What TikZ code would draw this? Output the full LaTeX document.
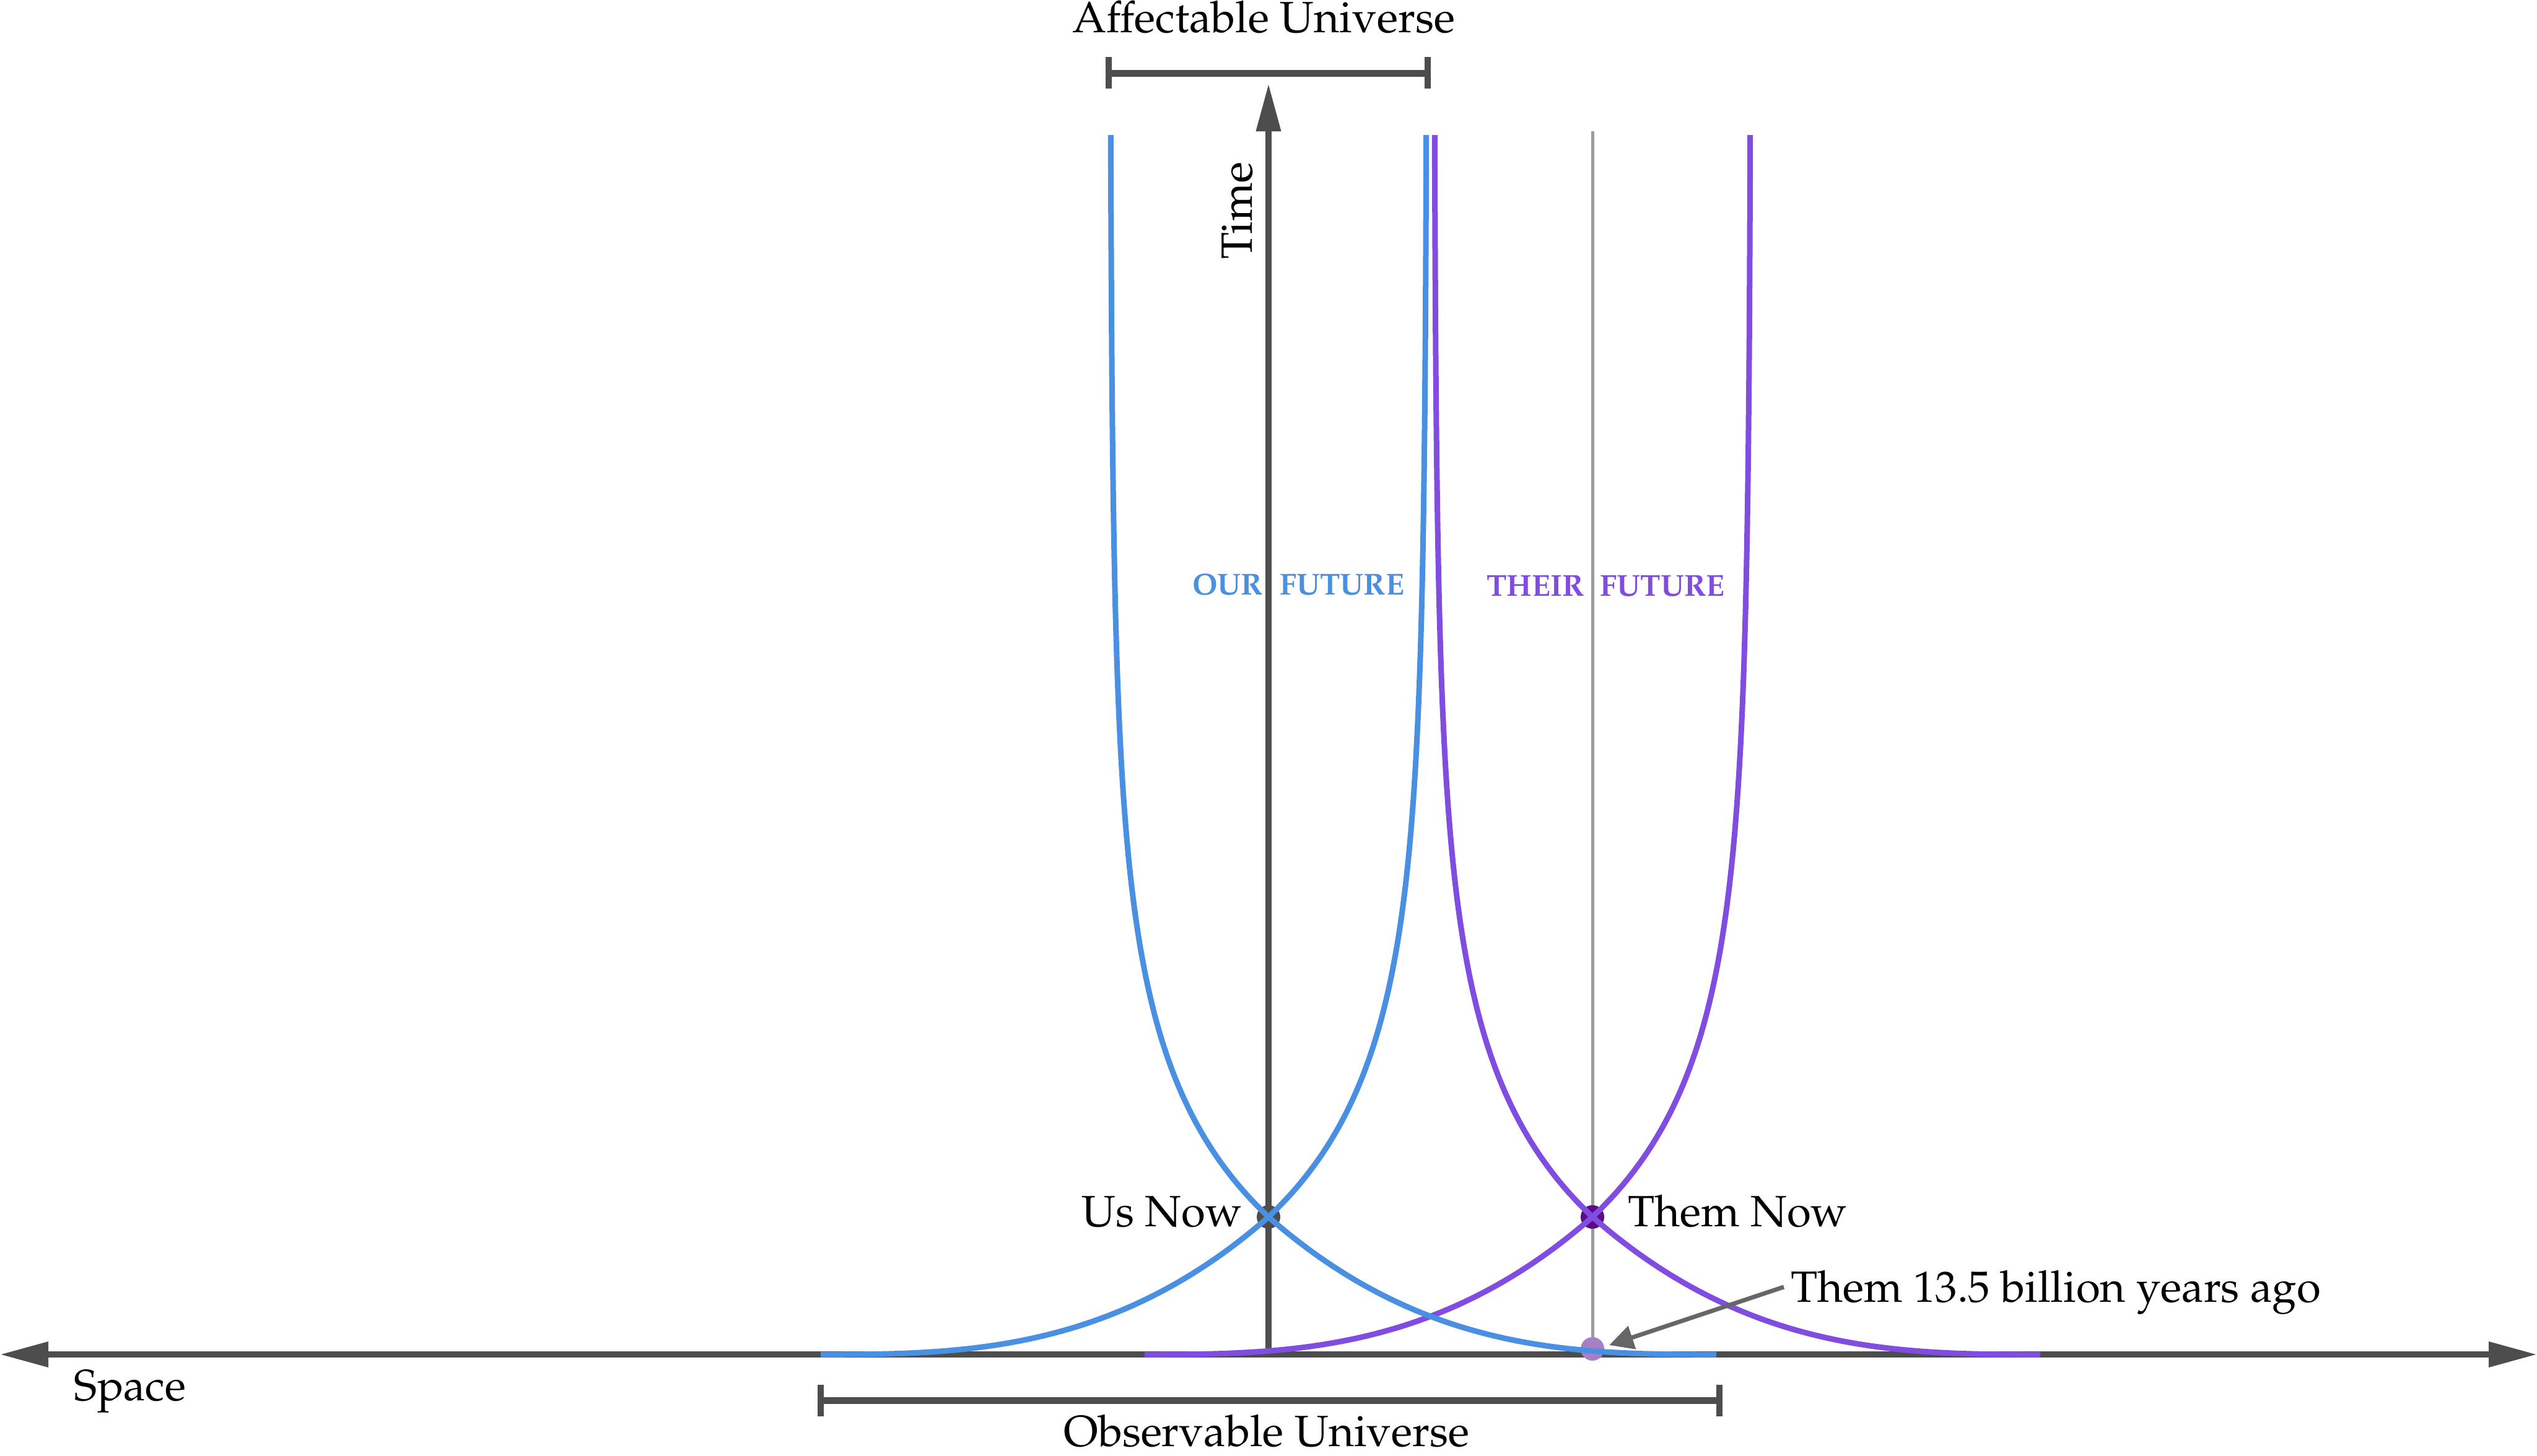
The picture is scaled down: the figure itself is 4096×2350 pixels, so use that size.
\documentclass[tikz,border=0pt]{standalone}
\usepackage[T1]{fontenc}
\usepackage{mathpazo}
\usetikzlibrary{arrows.meta}
\definecolor{axisgray}{HTML}{4D4D4D}
\definecolor{ourblue}{HTML}{4A90E2}
\definecolor{theirpurple}{HTML}{804DE0}
\definecolor{themdotc}{HTML}{5F0A87}
\definecolor{pastdotc}{HTML}{A87FC4}
\definecolor{worldgray}{HTML}{9B9B9B}
\definecolor{pointergray}{HTML}{666666}
% one light-cone branch, relative to the event at u=0 (y in picture pixels)
\newcommand\conepath{plot[domain=0.0001:6.626,samples=90,smooth] ({-723+109.1*\x},{2187-pow(\x,2.857)}) -- plot[domain=0:1747,samples=140,smooth] ({256-256*exp(-0.00415*\x/(1+0.00022*\x))},{1965-\x})}
\begin{document}
\begin{tikzpicture}[x=0.01cm,y=-0.01cm,
  every node/.style={inner sep=0pt,outer sep=0pt},
  font=\fontsize{20.1pt}{24pt}\selectfont,
  bigtip/.tip={Triangle[length=0.78cm,width=0.39cm]},
  timetip/.tip={Triangle[length=0.77cm,width=0.38cm]},
  ptrtiptype/.tip={Triangle[length=0.39cm,width=0.38cm]},
  axisline/.style={draw=axisgray,line width=0.1cm},
  bracketline/.style={draw=axisgray,line width=0.11cm},
  ticklinestyle/.style={draw=axisgray,line width=0.1cm},
  coneline/.style={line width=0.09cm},
  dotnode/.style={circle,minimum size=0.38cm},
  lbl/.style={anchor=base west},
  futurelbl/.style={anchor=base west,font=\fontsize{13.9pt}{16pt}\selectfont\bfseries}]
\useasboundingbox (0,0) rectangle (4096,2350);

% coordinates
\coordinate (spL) at (0,2187);
\coordinate (spR) at (4096,2187);
\coordinate (tB) at (2048,2187);
\coordinate (tT) at (2048,135);
\coordinate (usnow) at (2048,1965);
\coordinate (themnow) at (2571,1965);
\coordinate (themtop) at (2571,212);
\coordinate (thembot) at (2571,2187);
\coordinate (affL) at (1790,118);
\coordinate (affR) at (2305,118);
\coordinate (affLt) at (1790,92);
\coordinate (affLb) at (1790,143);
\coordinate (affRt) at (2305,92);
\coordinate (affRb) at (2305,143);
\coordinate (obsL) at (1325,2261);
\coordinate (obsR) at (2776,2261);
\coordinate (obsLt) at (1325,2236);
\coordinate (obsLb) at (1325,2287);
\coordinate (obsRt) at (2776,2236);
\coordinate (obsRb) at (2776,2287);
\coordinate (ptrtip) at (2598,2172);

% their world line
\draw[worldgray,line width=0.05cm] (themtop) -- (thembot);

% axes
\draw[axisline,bigtip-bigtip] (spL) -- (spR);
\draw[axisline,-timetip] (tB) -- (tT);

% brackets
\draw[bracketline] (affL) -- (affR);
\draw[ticklinestyle] (affLt) -- (affLb);
\draw[ticklinestyle] (affRt) -- (affRb);
\draw[bracketline] (obsL) -- (obsR);
\draw[ticklinestyle] (obsLt) -- (obsLb);
\draw[ticklinestyle] (obsRt) -- (obsRb);

% dots
\node[dotnode,fill=axisgray] (usdot) at (usnow) {};
\node[dotnode,fill=themdotc] (themdot) at (themnow) {};
\node[dotnode,fill=pastdotc] (pastdot) at (2571,2178) {};

% light cones: purple (them)
\begin{scope}[shift={(2571,0)}]
  \draw[coneline,theirpurple] \conepath;
\end{scope}
\begin{scope}[shift={(2571,0)},xscale=-1]
  \draw[coneline,theirpurple] \conepath;
\end{scope}
% light cones: blue (us)
\begin{scope}[shift={(2048,0)}]
  \draw[coneline,ourblue] \conepath;
\end{scope}
\begin{scope}[shift={(2048,0)},xscale=-1]
  \draw[coneline,ourblue] \conepath;
\end{scope}

% labels
\node[anchor=base] (afflbl) at (2040,52) {Affectable Universe};
\node[anchor=base west,rotate=90] (timelbl) at (2021,418) {Time};
\node[futurelbl,text=ourblue] (ourfut) at (1925,960) {OUR\hspace{0.27cm}FUTURE};
\node[futurelbl,text=theirpurple] (theirfut) at (2400,962) {THEIR\hspace{0.26cm}FUTURE};
\node[anchor=base east] (uslbl) at (2005,1980) {Us Now};
\node[lbl] (themlbl) at (2628,1980) {Them Now};
\node[lbl] (them13) at (2891,2102) {Them 13.5 billion years ago};
\node[lbl] (spacelbl) at (120,2261) {Space};
\node[anchor=base] (obslbl) at (2045,2335) {Observable Universe};

% pointer
\draw[pointergray,line width=0.07cm,-ptrtiptype]
  ([xshift=-0.11cm,yshift=0.24cm]them13.base west) -- (ptrtip);
\end{tikzpicture}
\end{document}
